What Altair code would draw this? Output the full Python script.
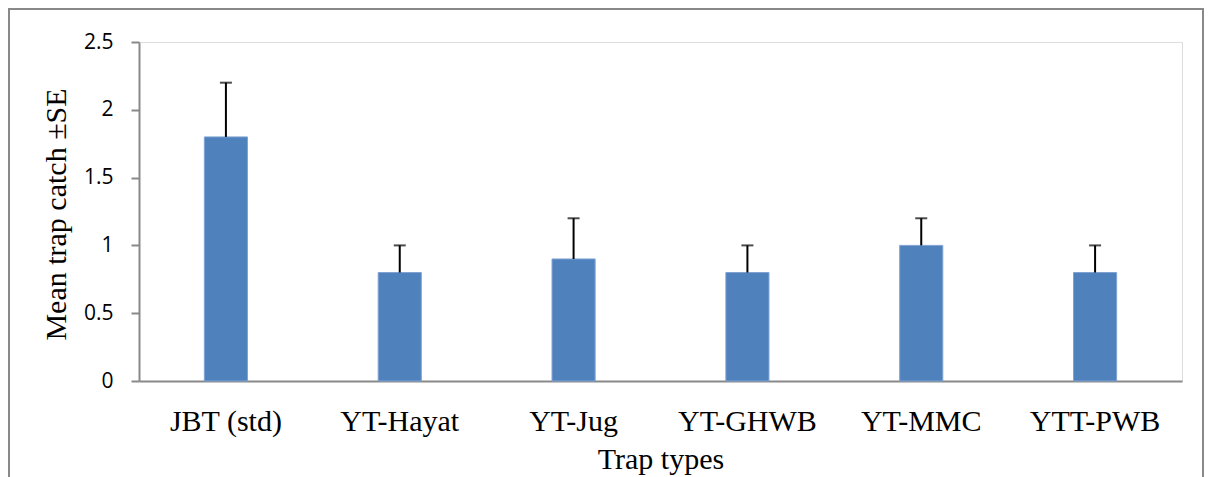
import altair as alt
import pandas as pd

categories = ["JBT (std)", "YT-Hayat", "YT-Jug", "YT-GHWB", "YT-MMC", "YTT-PWB"]
means = [1.8, 0.8, 0.9, 0.8, 1.0, 0.8]
se = [0.4, 0.2, 0.3, 0.2, 0.2, 0.2]
y_ticks = [0, 0.5, 1, 1.5, 2, 2.5]

df = pd.DataFrame({"trap": categories, "mean": means, "se": se})
df["upper"] = df["mean"] + df["se"]

AXIS_GRAY = "#898989"
SERIF = "Liberation Serif"
SANS = "Open Sans"

x_enc = alt.X(
    "trap:N",
    sort=categories,
    scale=alt.Scale(paddingInner=0.752, paddingOuter=0.376),
    axis=alt.Axis(
        title="Trap types",
        labelFont=SERIF,
        labelFontSize=30,
        labelColor="black",
        labelAngle=0,
        labelPadding=25,
        ticks=False,
        domainColor=AXIS_GRAY,
        domainWidth=2,
        titleFont=SERIF,
        titleFontSize=30,
        titleFontWeight="normal",
        titleColor="black",
        titleBaseline="alphabetic",
        titleY=87,
    ),
)

y_scale = alt.Scale(domain=[0, 2.5], nice=False)

bars = alt.Chart(df).mark_bar(
    color="#4F81BD", stroke="#7FA3D3", strokeWidth=1
).encode(
    x=x_enc,
    y=alt.Y(
        "mean:Q",
        scale=y_scale,
        axis=alt.Axis(
            title="Mean trap catch ±SE",
            values=y_ticks,
            format="~g",
            grid=False,
            labelFont=SANS,
            labelFontSize=21,
            labelColor="black",
            labelPadding=18,
            tickSize=8,
            tickWidth=2,
            tickColor=AXIS_GRAY,
            domainColor=AXIS_GRAY,
            domainWidth=2,
            titleFont=SERIF,
            titleFontSize=30,
            titleFontWeight="normal",
            titleColor="black",
            titleAngle=270,
            titleBaseline="alphabetic",
            titleAlign="center",
            titleX=-74,
            titleY=172,
        ),
    ),
)

err = alt.Chart(df).mark_rule(color="black", strokeWidth=2).encode(
    x=alt.X("trap:N", sort=categories),
    y=alt.Y("mean:Q", scale=y_scale),
    y2="upper:Q",
)

caps = alt.Chart(df).mark_tick(color="black", size=12, thickness=2).encode(
    x=alt.X("trap:N", sort=categories),
    y=alt.Y("upper:Q", scale=y_scale),
)

border = alt.Chart(pd.DataFrame({"b": [0]})).mark_rect(
    filled=False, stroke=AXIS_GRAY, strokeWidth=2
).encode(
    x=alt.value(-130),
    x2=alt.value(1064),
    y=alt.value(-33),
    y2=alt.value(470),
)

chart = (
    alt.layer(border, bars, err, caps)
    .properties(
        width=1043,
        height=339,
        autosize=alt.AutoSizeParams(type="none"),
        padding={"left": 131, "top": 34, "right": 23, "bottom": 96},
    )
    .configure_view(stroke=None)
    .configure(background="white")
)

chart.save("out.html", embed_options={"renderer": "svg", "actions": False})
